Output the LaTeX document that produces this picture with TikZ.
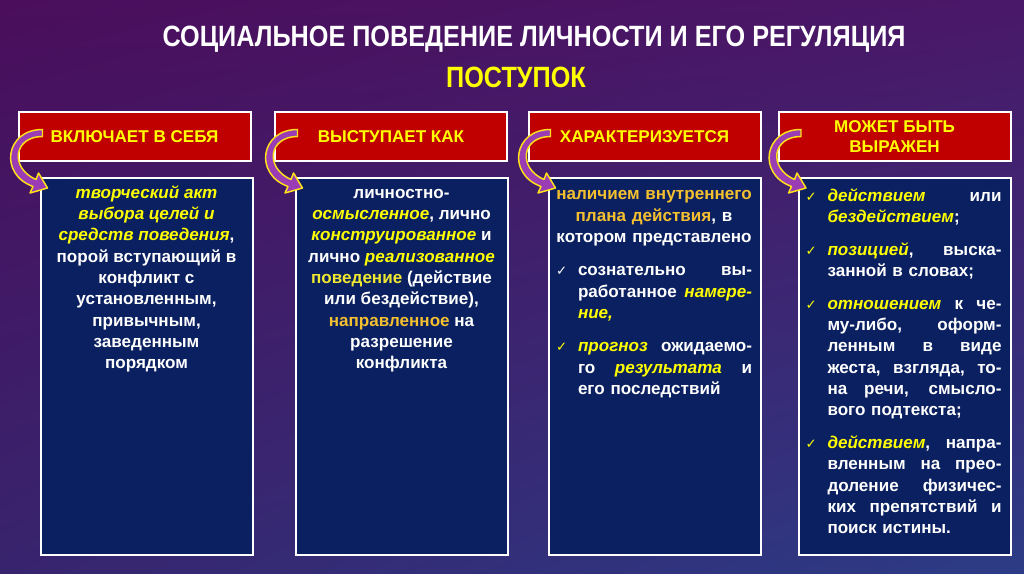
\documentclass[tikz,border=0pt]{standalone}
\usepackage{fontspec}
\setmainfont{Liberation Sans}
\newfontfamily\symfont{DejaVu Sans}
\newfontfamily\narrowfont[FakeStretch=0.86]{Liberation Sans}
\usetikzlibrary{calc,shadings}

\definecolor{bgtl}{HTML}{4A0E5C}
\definecolor{bgtr}{HTML}{4A1868}
\definecolor{bgbl}{HTML}{38246E}
\definecolor{bgbr}{HTML}{2C3C86}
\definecolor{hdrred}{HTML}{C00000}
\definecolor{boxblue}{HTML}{0A2060}
\definecolor{hiyellow}{HTML}{FFFF00}
\definecolor{lemon}{HTML}{F0E830}
\definecolor{gold}{HTML}{F5C030}
\definecolor{arrowpurple}{HTML}{9A3CB4}
\definecolor{arrowrim}{HTML}{FFE21A}

\newlength\colw \setlength\colw{147pt}
\newlength\tickw \setlength\tickw{16.5pt}
\newlength\jlw \setlength\jlw{\dimexpr\colw-\tickw\relax}
\newcommand{\yi}[1]{{\color{hiyellow}\itshape #1}}
\newcommand{\gd}[1]{{\color{gold}#1}}
\newcommand{\tick}[1]{\makebox[\tickw][l]{\color{#1}\symfont\mdseries\fontsize{10}{10}\selectfont ✓}}
\newcommand{\ind}{\makebox[\tickw]{}}
\newcommand{\jl}[1]{{\spaceskip=0.28em plus 4em minus 0.05em\makebox[\jlw][s]{#1}}}

\tikzset{every picture/.style={line width=0.75pt}}
\tikzset{
  hdr/.style={draw=white, line width=1.5pt, fill=hdrred, minimum width=174pt, minimum height=36.75pt,
    inner sep=0pt, text=hiyellow, align=center, font=\bfseries\fontsize{12.8}{15}\selectfont},
  bluebox/.style={draw=white, line width=1.5pt, fill=boxblue, minimum width=159pt, minimum height=282.75pt, inner sep=0pt},
  bodytext/.style={inner sep=0pt, text=white, font=\bfseries\fontsize{12.8}{16}\selectfont},
  bendarrow/.pic={
    \draw[yscale=-1, draw=arrowrim, fill=arrowpurple, line width=1.1pt, line join=round]
      (0,-3.5) .. controls (-37,-3.5) and (-44,41) .. (-9.5,53.5) -- (-12.5,60) -- (5,55) -- (-4,40)
      -- (-6.5,46.5) .. controls (-33,35) and (-29,3.5) .. (0,3.5) -- cycle ;
  }
}

\begin{document}
\begin{tikzpicture}[x=0.75pt,y=0.75pt,yscale=-1]
\useasboundingbox (0,0) rectangle (1024,574);

%Shape: Background
\shade[upper left=bgtl, upper right=bgtr, lower left=bgbl, lower right=bgbr] (0,0) rectangle (1024,574);

% Text Node
\node[inner sep=0pt, text=white, font=\narrowfont\bfseries\fontsize{22}{26}\selectfont] (title) at (534,39) {СОЦИАЛЬНОЕ ПОВЕДЕНИЕ ЛИЧНОСТИ И ЕГО РЕГУЛЯЦИЯ};
% Text Node
\node[inner sep=0pt, text=hiyellow, font=\narrowfont\bfseries\fontsize{22}{26}\selectfont] (deed) at (516,77) {ПОСТУПОК};

%Shape: Rectangle (headers)
\node[hdr] (hdrA) at (134.5,136.5) {ВКЛЮЧАЕТ В СЕБЯ};
\node[hdr] (hdrB) at (391,136.5) {ВЫСТУПАЕТ КАК};
\node[hdr] (hdrC) at (644.5,136.5) {ХАРАКТЕРИЗУЕТСЯ};
\node[hdr] (hdrD) at (894.5,136.5) {МОЖЕТ БЫТЬ\\ ВЫРАЖЕН};

%Shape: Rectangle (columns)
\node[bluebox] (boxA) at (146.5,366.5) {};
\node[bluebox] (boxB) at (401.5,366.5) {};
\node[bluebox] (boxC) at (654.5,366.5) {};
\node[bluebox] (boxD) at (905,366.5) {};

%Shape: Curved arrows
\foreach \b in {boxA,boxB,boxC,boxD}
  \pic at ($(\b.north west)+(3,-44)$) {bendarrow};

% Text Node
\node[bodytext, anchor=north, align=center] (txtA) at ($(boxA.north)+(0,8)$) {%
\yi{творческий акт}\\ \yi{выбора целей и}\\ \yi{средств поведения},\\ порой вступающий в\\
конфликт с\\ установленным,\\ привычным,\\ заведенным\\ порядком};

% Text Node
\node[bodytext, anchor=north, align=center] (txtB) at ($(boxB.north)+(0,11.5)$) {%
личностно-\\ \yi{осмысленное}, лично\\ \yi{конструированное} и\\ лично \yi{реализованное}\\
{\color{lemon}поведение} (действие\\ или бездействие),\\ \gd{направленное} на\\ разрешение\\ конфликта};

% Text Node
\node[bodytext, anchor=north west, text width=\colw, align=left] (txtC) at ($(boxC.north west)+(8,13)$) {%
\makebox[\colw]{\gd{наличием внутреннего}}\\
\makebox[\colw]{\gd{плана действия}, в}\\
\makebox[\colw]{котором представлено}\\[9pt]
\tick{white}\jl{сознательно вы-}\\
\ind\jl{работанное \yi{намере-}}\\
\ind\yi{ние,}\\[9pt]
\tick{hiyellow}\jl{\yi{прогноз} ожидаемо-}\\
\ind\jl{го \yi{результата} и}\\
\ind его последствий};

% Text Node
\node[bodytext, anchor=north west, text width=\colw, align=left] (txtD) at ($(boxD.north west)+(7,11)$) {%
\tick{hiyellow}\jl{\yi{действием} или}\\
\ind\yi{бездействием};\\[8.5pt]
\tick{hiyellow}\jl{\yi{позицией}, выска-}\\
\ind занной в словах;\\[8.5pt]
\tick{hiyellow}\jl{\yi{отношением} к че-}\\
\ind\jl{му-либо, оформ-}\\
\ind\jl{ленным в виде}\\
\ind\jl{жеста, взгляда, то-}\\
\ind\jl{на речи, смысло-}\\
\ind вого подтекста;\\[8.5pt]
\tick{hiyellow}\jl{\yi{действием}, напра-}\\
\ind\jl{вленным на прео-}\\
\ind\jl{доление физичес-}\\
\ind\jl{ких препятствий и}\\
\ind поиск истины.};

\end{tikzpicture}
\end{document}
